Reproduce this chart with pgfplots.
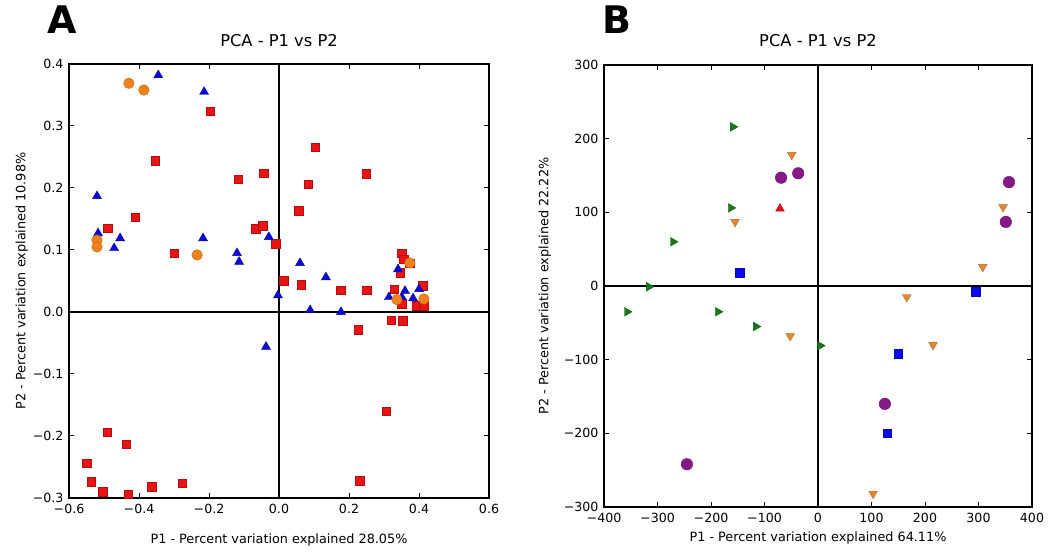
\documentclass[border=0pt]{standalone}
\usepackage{fontspec}
\setmainfont{DejaVu Sans}
\usepackage{pgfplots}
\pgfplotsset{compat=1.18}
\definecolor{mred}{RGB}{235,20,20}
\definecolor{mblue}{RGB}{10,10,210}
\definecolor{morange}{RGB}{240,130,30}
\definecolor{bgreen}{RGB}{25,120,25}
\definecolor{borange}{RGB}{228,135,50}
\definecolor{bpurple}{RGB}{135,25,135}
\definecolor{bblue}{RGB}{10,10,240}
\definecolor{bred}{RGB}{240,10,30}
\pgfplotsset{pcastyle/.style={
  scale only axis,
  axis line style={line width=1.1pt},
  tick align=inside,
  major tick length=5pt,
  tick style={line width=1pt,black},
  every tick label/.append style={font=\fontsize{12.6}{14}\selectfont},
  xticklabel style={yshift=-3pt},
  yticklabel style={xshift=-2pt},
  label style={font=\fontsize{12.8}{14}\selectfont},
  title style={font=\fontsize{16.3}{18}\selectfont},
  /pgf/number format/assume math mode=true,
  anchor=south west,
}}
\begin{document}
\begin{tikzpicture}
\useasboundingbox (0pt,0pt) rectangle (1050pt,553pt);
\node[font=\fontsize{38}{40}\selectfont\bfseries] at (62pt,533pt) {A};
\node[font=\fontsize{38}{40}\selectfont\bfseries] at (617pt,533pt) {B};
% Panel A
\begin{axis}[pcastyle, at={(69pt,55pt)}, width=420pt, height=434pt,
  xmin=-0.6, xmax=0.6, ymin=-0.3, ymax=0.4,
  xtick={-0.6,-0.4,-0.2,0,0.2,0.4,0.6},
  xticklabels={−0.6,−0.4,−0.2,0.0,0.2,0.4,0.6},
  ytick={-0.3,-0.2,-0.1,0,0.1,0.2,0.3,0.4},
  yticklabels={−0.3,−0.2,−0.1,0.0,0.1,0.2,0.3,0.4},
  title={PCA - P1 vs P2},
  title style={at={(axis description cs:0.5,1.039)}, anchor=center},
  xlabel={P1 - Percent variation explained 28.05\%},
  xlabel style={at={(axis description cs:0.5,-0.097)}, anchor=center},
  ylabel={P2 - Percent variation explained 10.98\%},
  ylabel style={at={(axis description cs:-0.112,0.5)}, anchor=center, rotate=0}]
\addplot[black, line width=1.1pt, no marks] coordinates {(0,-0.3) (0,0.4)};
\addplot[black, line width=1.1pt, no marks] coordinates {(-0.6,0) (0.6,0)};
\addplot[only marks, mark=square*, mark size=4.3pt, mark options={draw=mred!75!black, fill=mred, line width=0.4pt}] table {
x y
-0.197 0.324
-0.354 0.244
-0.117 0.214
-0.043 0.224
-0.411 0.153
-0.489 0.135
-0.300 0.095
-0.066 0.134
-0.046 0.139
-0.009 0.110
0.103 0.266
0.249 0.223
0.083 0.206
0.057 0.163
0.351 0.095
0.357 0.085
0.374 0.079
0.346 0.063
0.014 0.050
0.063 0.044
0.177 0.035
0.251 0.035
0.329 0.037
0.351 0.013
0.394 0.010
0.414 0.010
0.411 0.042
0.320 -0.013
0.354 -0.014
0.226 -0.029
0.306 -0.160
0.231 -0.272
-0.491 -0.194
-0.437 -0.213
-0.549 -0.244
-0.537 -0.274
-0.503 -0.290
-0.431 -0.294
-0.363 -0.282
-0.277 -0.276
};
\addplot[only marks, mark=triangle*, mark size=5.2pt, mark options={draw=mblue!75!black, fill=mblue, line width=0.4pt}] table {
x y
-0.345 0.382
-0.214 0.355
-0.520 0.187
-0.517 0.127
-0.454 0.119
-0.471 0.103
-0.217 0.119
-0.120 0.095
-0.114 0.081
-0.029 0.121
-0.037 -0.056
-0.003 0.027
0.060 0.079
0.134 0.056
0.089 0.003
0.177 0.000
0.340 0.069
0.314 0.024
0.360 0.034
0.351 0.024
0.383 0.022
0.400 0.037
};
\addplot[only marks, mark=*, mark size=5.3pt, mark options={draw=morange!80!black, fill=morange, line width=0.4pt}] table {
x y
-0.429 0.369
-0.386 0.358
-0.520 0.116
-0.520 0.105
-0.234 0.092
0.374 0.079
0.414 0.021
0.337 0.020
};
\end{axis}
% Panel B
\begin{axis}[pcastyle, at={(604pt,46pt)}, width=428pt, height=442pt,
  xmin=-400, xmax=400, ymin=-300, ymax=300,
  xtick={-400,-300,-200,-100,0,100,200,300,400},
  xticklabels={−400,−300,−200,−100,0,100,200,300,400},
  ytick={-300,-200,-100,0,100,200,300},
  yticklabels={−300,−200,−100,0,100,200,300},
  title={PCA - P1 vs P2},
  title style={at={(axis description cs:0.5,1.041)}, anchor=center},
  xlabel={P1 - Percent variation explained 64.11\%},
  xlabel style={at={(axis description cs:0.5,-0.07)}, anchor=center},
  ylabel={P2 - Percent variation explained 22.22\%},
  ylabel style={at={(axis description cs:-0.138,0.5)}, anchor=center, rotate=0}]
\addplot[black, line width=1.1pt, no marks] coordinates {(0,-300) (0,300)};
\addplot[black, line width=1.1pt, no marks] coordinates {(-400,0) (400,0)};
\addplot[only marks, mark=triangle*, mark size=5pt, mark options={rotate=-90, draw=bgreen!75!black, fill=bgreen, line width=0.4pt}] table {
x y
-159 216
-163 106
-271 60
-316 -1
-357 -35
-187 -35
-116 -55
4 -81
};
\addplot[only marks, mark=triangle*, mark size=5pt, mark options={rotate=180, draw=borange!80!black, fill=borange, line width=0.4pt}] table {
x y
-49 178
-155 87
-52 -68
346 107
308 26
166 -15
215 -80
103 -282
};
\addplot[only marks, mark=*, mark size=5.8pt, mark options={draw=bpurple!80!black, fill=bpurple, line width=0.4pt}] table {
x y
-69 147
-37 153
357 141
351 87
-245 -242
125 -160
};
\addplot[only marks, mark=square*, mark size=4.3pt, mark options={draw=bblue!75!black, fill=bblue, line width=0.4pt}] table {
x y
-146 18
295 -8
150 -92
129 -200
};
\addplot[only marks, mark=triangle*, mark size=5pt, mark options={draw=bred!75!black, fill=bred, line width=0.4pt}] table {
x y
-71 105
};
\end{axis}
\end{tikzpicture}
\end{document}
